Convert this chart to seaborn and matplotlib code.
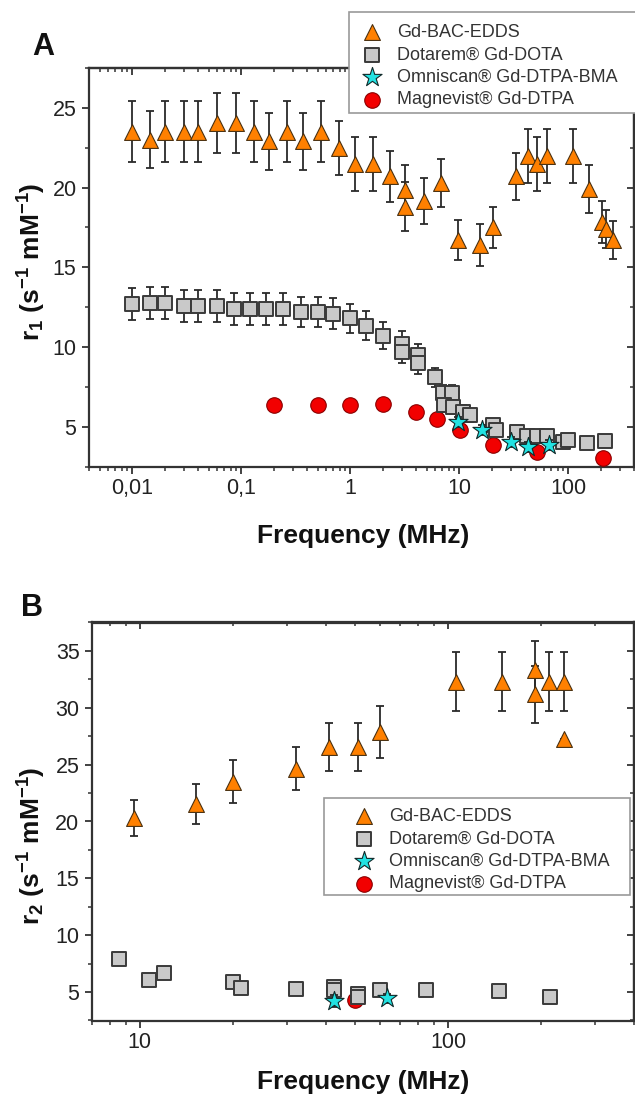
import numpy as np
import pandas as pd
import matplotlib
matplotlib.use("Agg")
import matplotlib.pyplot as plt
import seaborn as sns
from matplotlib.patches import Rectangle
from matplotlib.ticker import FixedLocator, FixedFormatter, MultipleLocator, LogLocator, NullFormatter

# ---------------- Panel A data (r1 vs frequency) ----------------
a_bac_freq = [0.01, 0.0145, 0.02, 0.03, 0.04, 0.06, 0.09, 0.13, 0.18, 0.26, 0.37, 0.54, 0.78, 1.1, 1.6,
              2.3, 3.2, 3.2, 4.7, 6.8, 9.8, 15.5, 20.5, 33, 43, 52, 63, 111, 155, 204, 222, 257]
a_bac_r1 = [23.5, 23.0, 23.5, 23.5, 23.5, 24.05, 24.05, 23.5, 22.9, 23.5, 22.9, 23.5, 22.5, 21.5, 21.5,
            20.7, 19.85, 18.8, 19.15, 20.3, 16.7, 16.4, 17.5, 20.7, 22.0, 21.5, 22.0, 22.0, 19.9, 17.85, 17.4, 16.7]
a_bac_err = [1.9, 1.8, 1.9, 1.9, 1.9, 1.9, 1.9, 1.9, 1.8, 1.9, 1.8, 1.9, 1.7, 1.7, 1.7,
             1.6, 1.55, 1.55, 1.45, 1.5, 1.25, 1.3, 1.3, 1.5, 1.7, 1.7, 1.7, 1.7, 1.5, 1.3, 1.2, 1.2]

a_dota_freq = [0.01, 0.0145, 0.02, 0.03, 0.04, 0.06, 0.085, 0.12, 0.17, 0.24, 0.35, 0.5, 0.7, 1.0, 1.4,
               2.0, 3.0, 3.0, 4.2, 4.2, 6.0, 7.1, 8.5, 7.2, 8.8, 10.7, 12.5, 20.5, 21.8, 33.6, 41.5, 51, 63,
               90, 100, 148, 217]
a_dota_r1 = [12.7, 12.75, 12.75, 12.6, 12.6, 12.6, 12.4, 12.4, 12.4, 12.4, 12.2, 12.2, 12.1, 11.8, 11.35,
             10.7, 10.2, 9.7, 9.5, 9.0, 8.1, 7.1, 7.1, 6.36, 6.25, 5.94, 5.73, 5.1, 4.8, 4.7, 4.4, 4.4, 4.4,
             4.06, 4.16, 3.96, 4.1]
a_dota_err = [1.0, 1.0, 1.0, 1.0, 1.0, 1.0, 1.0, 1.0, 1.0, 1.0, 0.95, 0.95, 0.95, 0.9, 0.9,
              0.85, 0.8, 0.7, 0.7, 0.7, 0.6, 0.5, 0.5, 0.45, 0.45, 0.4, 0.4, 0.35, 0.35, 0.3, 0.3, 0.3, 0.3,
              0.3, 0.3, 0.3, 0.3]

a_omni_freq = [9.8, 16, 30, 42.6, 67]
a_omni_r1 = [5.3, 4.8, 4.06, 3.75, 3.85]
a_omni_err = [0.3, 0.3, 0.3, 0.3, 0.3]

a_magn_freq = [0.2, 0.5, 1.0, 2.0, 4.0, 6.2, 10.2, 20.5, 51, 207]
a_magn_r1 = [6.35, 6.36, 6.36, 6.42, 5.94, 5.5, 4.83, 3.85, 3.43, 3.05]
a_magn_err = [0.3, 0.3, 0.3, 0.3, 0.3, 0.3, 0.3, 0.3, 0.3, 0.3]

# ---------------- Panel B data (r2 vs frequency) ----------------
b_bac_freq = [9.56, 15.2, 20, 32, 41, 51, 60, 106, 149, 191, 191, 212, 238, 238]
b_bac_r2 = [20.3, 21.55, 23.5, 24.65, 26.55, 26.55, 27.9, 32.3, 32.3, 33.3, 31.2, 32.3, 32.3, 27.25]
b_bac_err = [1.6, 1.75, 1.9, 1.9, 2.1, 2.1, 2.3, 2.6, 2.6, 2.6, 2.5, 2.6, 2.6, 0.0]

b_dota_freq = [8.55, 10.7, 12.0, 20, 21.3, 32, 42.5, 42.5, 51, 51, 60, 85, 146, 214]
b_dota_r2 = [7.93, 6.03, 6.67, 5.9, 5.35, 5.25, 5.45, 5.2, 4.85, 4.6, 5.15, 5.15, 5.1, 4.55]
b_dota_err = [0.3, 0.2, 0.2, 0.3, 0.2, 0.2, 0.3, 0.2, 0.2, 0.2, 0.2, 0.2, 0.2, 0.2]

b_omni_freq = [42.5, 63.5]
b_omni_r2 = [4.2, 4.45]
b_omni_err = [0.5, 0.4]

b_magn_freq = [49.8]
b_magn_r2 = [4.33]
b_magn_err = [0.2]

series_labels = ["Gd-BAC-EDDS", "Dotarem\u00ae Gd-DOTA", "Omniscan\u00ae Gd-DTPA-BMA", "Magnevist\u00ae Gd-DTPA"]
xtick_values_a = [0.01, 0.1, 1, 10, 100]
xtick_labels_a = ["0,01", "0,1", "1", "10", "100"]
xtick_values_b = [10, 100]
xtick_labels_b = ["10", "100"]

# ---------------- styling ----------------
sns.set_theme(style="ticks")
plt.rcParams['font.family'] = ['Liberation Sans', 'DejaVu Sans']
plt.rcParams['mathtext.fontset'] = 'custom'
plt.rcParams['mathtext.rm'] = 'Liberation Sans'
plt.rcParams['mathtext.bf'] = 'Liberation Sans:bold'
plt.rcParams['mathtext.it'] = 'Liberation Sans:italic'

styles = [
    dict(marker='^', color='#FF8000', edgecolor='#4A3010', s=130, linewidth=0.8, zorder=3),
    dict(marker='s', color='#C9C9C9', edgecolor='#3A3A3A', s=90, linewidth=1.4, zorder=5),
    dict(marker='*', color='#22E2E2', edgecolor='#102A2A', s=210, linewidth=0.8, zorder=6),
    dict(marker='o', color='#F20000', edgecolor='#8A0000', s=125, linewidth=0.8, zorder=4),
]

W, H = 635, 1101
fig = plt.figure(figsize=(6.35, 11.01), dpi=100)
axA = fig.add_axes([89 / W, 1 - 466.7 / H, (634 - 89) / W, (466.7 - 68) / H])
axB = fig.add_axes([92 / W, 1 - 1020.5 / H, (634 - 92) / W, (1020.5 - 622.5) / H])

def draw(ax, groups):
    for (fx, fy, fe), st, lab in zip(groups, styles, series_labels):
        df = pd.DataFrame({"f": fx, "r": fy, "e": fe})
        ax.errorbar(df["f"], df["r"], yerr=df["e"], fmt='none', ecolor='#2A2A2A',
                    elinewidth=1.3, capsize=3.2, capthick=1.3, zorder=st['zorder'] - 0.5,
                    label='_nolegend_')
        sns.scatterplot(data=df, x="f", y="r", ax=ax, label=lab, legend=False, **st)

groupsA = [(a_bac_freq, a_bac_r1, a_bac_err), (a_dota_freq, a_dota_r1, a_dota_err),
           (a_omni_freq, a_omni_r1, a_omni_err), (a_magn_freq, a_magn_r1, a_magn_err)]
groupsB = [(b_bac_freq, b_bac_r2, b_bac_err), (b_dota_freq, b_dota_r2, b_dota_err),
           (b_omni_freq, b_omni_r2, b_omni_err), (b_magn_freq, b_magn_r2, b_magn_err)]
draw(axA, groupsA)
draw(axB, groupsB)

spine_col = '#333333'
tick_fs = 15.5

def style_axes(ax, xlim, ylim, xt_vals, xt_labels):
    ax.set_xscale('log')
    ax.set_xlim(*xlim)
    ax.set_ylim(*ylim)
    ax.xaxis.set_major_locator(FixedLocator(xt_vals))
    ax.xaxis.set_major_formatter(FixedFormatter(xt_labels))
    ax.xaxis.set_minor_locator(LogLocator(base=10, subs=np.arange(2, 10), numticks=50))
    ax.xaxis.set_minor_formatter(NullFormatter())
    ax.yaxis.set_major_locator(MultipleLocator(5))
    ax.yaxis.set_minor_locator(MultipleLocator(2.5))
    for sp in ax.spines.values():
        sp.set_visible(True)
        sp.set_color(spine_col)
        sp.set_linewidth(1.6)
    ax.tick_params(axis='both', which='major', direction='out', length=5, width=1.3,
                   color=spine_col, labelsize=tick_fs, labelcolor='#222222', pad=3)
    ax.tick_params(axis='both', which='minor', direction='out', length=3, width=1.1, color=spine_col)
    ax.tick_params(axis='y', which='major', pad=4)
    ax.grid(False)
    ax.set_facecolor('white')
    # mirrored inward ticks on top and right
    sx = ax.secondary_xaxis('top')
    sx.xaxis.set_major_locator(FixedLocator(xt_vals))
    sx.xaxis.set_minor_locator(LogLocator(base=10, subs=np.arange(2, 10), numticks=50))
    sx.xaxis.set_major_formatter(NullFormatter())
    sx.xaxis.set_minor_formatter(NullFormatter())
    sx.tick_params(which='major', direction='in', length=5, width=1.3, color=spine_col)
    sx.tick_params(which='minor', direction='in', length=3, width=1.1, color=spine_col)
    sx.spines['top'].set_color(spine_col)
    sx.spines['top'].set_linewidth(1.6)
    sy = ax.secondary_yaxis('right')
    sy.yaxis.set_major_locator(MultipleLocator(5))
    sy.yaxis.set_minor_locator(MultipleLocator(2.5))
    sy.yaxis.set_major_formatter(NullFormatter())
    sy.tick_params(which='major', direction='in', length=5, width=1.3, color=spine_col)
    sy.tick_params(which='minor', direction='in', length=3, width=1.1, color=spine_col)
    sy.spines['right'].set_color(spine_col)
    sy.spines['right'].set_linewidth(1.6)

style_axes(axA, (0.004, 400), (2.5, 27.5), xtick_values_a, xtick_labels_a)
style_axes(axB, (7, 400), (2.5, 37.5), xtick_values_b, xtick_labels_b)

lab_fs = 19
axA.set_xlabel("Frequency (MHz)", fontsize=lab_fs, fontweight='bold', color='#111111')
axA.xaxis.set_label_coords(0.503, -0.143)
axA.xaxis.label.set_va('top')
axA.set_ylabel(r"$\mathbf{r_1}$ (s$^{\mathbf{-1}}$ mM$^{\mathbf{-1}}$)", fontsize=lab_fs,
               fontweight='bold', color='#111111')
axA.yaxis.set_label_coords(-0.075, 0.515)

axB.set_xlabel("Frequency (MHz)", fontsize=lab_fs, fontweight='bold', color='#111111')
axB.xaxis.set_label_coords(0.5, -0.124)
axB.xaxis.label.set_va('top')
axB.set_ylabel(r"$\mathbf{r_2}$ (s$^{\mathbf{-1}}$ mM$^{\mathbf{-1}}$)", fontsize=lab_fs,
               fontweight='bold', color='#111111')
axB.yaxis.set_label_coords(-0.081, 0.44)

fig.text(43 / W, 1 - 47 / H, "A", fontsize=22, fontweight='bold', ha='center', va='center', color='#111111')
fig.text(32 / W, 1 - 608 / H, "B", fontsize=22, fontweight='bold', ha='center', va='center', color='#111111')

# legends: content without frame, frame drawn as a separate box
leg_kw = dict(loc='upper left', bbox_transform=fig.transFigure, frameon=False,
              fontsize=13, borderaxespad=0, borderpad=0,
              handletextpad=0.4, labelspacing=0.3, handlelength=1.97)

def add_legend(ax, anchor_px, box_px):
    h, l = ax.get_legend_handles_labels()
    leg = ax.legend(h, l, bbox_to_anchor=(anchor_px[0] / W, 1 - anchor_px[1] / H), **leg_kw)
    leg.set_zorder(10)
    for t in leg.get_texts():
        t.set_color('#333333')
    x0, y0, x1, y1 = box_px
    rect = Rectangle((x0 / W, 1 - y1 / H), (x1 - x0) / W, (y1 - y0) / H, transform=fig.transFigure,
                     facecolor='white', edgecolor='#9A9A9A', linewidth=1.2, clip_on=False, zorder=9)
    ax.add_patch(rect)

add_legend(axA, (354, 24), (349, 12, 645, 113))
add_legend(axB, (346, 808), (324, 798, 630, 895))

fig.savefig("out.png", dpi=100, facecolor='white')
